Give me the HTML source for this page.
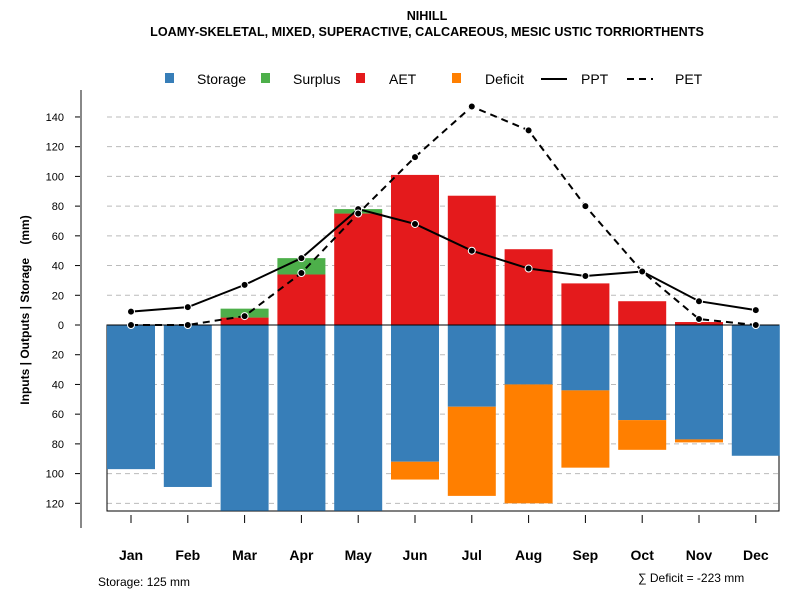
<!DOCTYPE html>
<html><head><meta charset="utf-8"><style>
body{margin:0;background:#fff}
svg{font-family:"Liberation Sans",sans-serif}
</style></head><body>
<svg id="c" width="800" height="600" xmlns="http://www.w3.org/2000/svg">
<text x="427" y="20" text-anchor="middle" font-size="12.6" font-weight="bold">NIHILL</text>
<text x="427" y="36" text-anchor="middle" font-size="12.6" font-weight="bold">LOAMY-SKELETAL, MIXED, SUPERACTIVE, CALCAREOUS, MESIC USTIC TORRIORTHENTS</text>
<g id="grid"></g><g id="bars"></g><g id="lines"></g><g id="axes"></g>
<g font-size="14">
<rect x="165" y="73" width="9" height="10" fill="#377eb8"/><text x="197" y="84">Storage</text>
<rect x="261" y="73" width="9" height="10" fill="#4daf4a"/><text x="293" y="84">Surplus</text>
<rect x="356" y="73" width="9" height="10" fill="#e41a1c"/><text x="389" y="84">AET</text>
<rect x="452" y="73" width="9" height="10" fill="#ff7f00"/><text x="485" y="84">Deficit</text>
<line x1="541" y1="79" x2="567" y2="79" stroke="#000" stroke-width="2"/><text x="581" y="84">PPT</text>
<line x1="627" y1="79" x2="653" y2="79" stroke="#000" stroke-width="2" stroke-dasharray="7,5"/><text x="675" y="84">PET</text>
</g>
<text x="98" y="586" font-size="12">Storage: 125 mm</text>
<text x="638" y="582" font-size="12">∑ Deficit = -223 mm</text>
<text transform="translate(29,310) rotate(-90)" text-anchor="middle" font-size="12" font-weight="bold" xml:space="preserve" style="white-space:pre">Inputs | Outputs | Storage    (mm)</text>
</svg>
<script>
const months=["Jan","Feb","Mar","Apr","May","Jun","Jul","Aug","Sep","Oct","Nov","Dec"];
const storage=[97,109,125,125,125,92,55,40,44,64,77,88];
const deficit=[0,0,0,0,0,12,60,80,52,20,2,0];
const aet=[0,0,5,34,75,101,87,51,28,16,2,0];
const surplus=[0,0,6,11,3,0,0,0,0,0,0,0];
const ppt=[9,12,27,45,78,68,50,38,33,36,16,10];
const pet=[0,0,6,35,75,113,147,131,80,36,4,0];
const ticks=[140,120,100,80,60,40,20,0,-20,-40,-60,-80,-100,-120];
const NS="http://www.w3.org/2000/svg";
const y=v=>325-v*1.486;
const x=i=>131+i*56.8;
const bw=48;
function el(g,t,a){const e=document.createElementNS(NS,t);for(const k in a)e.setAttribute(k,a[k]);document.getElementById(g).appendChild(e);return e;}
ticks.forEach(t=>{
 if(t!==0){const l=el("grid","line",{x1:107,x2:779,y1:y(t),y2:y(t),stroke:"#bbb","stroke-dasharray":"5,4"});
 
 }
 const tk=el("axes","line",{x1:75,x2:81,y1:y(t),y2:y(t),stroke:"#000"});
 
 
 const tx=el("axes","text",{x:64,y:y(t)+4,"text-anchor":"end","font-size":"11"});tx.textContent=Math.abs(t);
 
 
});
const box=el("grid","rect",{x:107,y:325,width:672,height:186,fill:"none",stroke:"#000"});


const ax=el("axes","line",{x1:81,x2:81,y1:90,y2:528,stroke:"#888","stroke-width":2});


months.forEach((m,i)=>{
 const L=x(i)-bw/2;
 const s=el("bars","rect",{x:L,y:325,width:bw,height:storage[i]*1.486,fill:"#377eb8"});
 
 
 if(deficit[i]>0){const d=el("bars","rect",{x:L,y:y(-storage[i]),width:bw,height:deficit[i]*1.486,fill:"#ff7f00"});
 
 }
 if(aet[i]>0){const a=el("bars","rect",{x:L,y:y(aet[i]),width:bw,height:aet[i]*1.486,fill:"#e41a1c"});
 
 }
 if(surplus[i]>0){const p=el("bars","rect",{x:L,y:y(aet[i]+surplus[i]),width:bw,height:surplus[i]*1.486,fill:"#4daf4a"});
 
 }
 const t=el("axes","line",{x1:x(i),x2:x(i),y1:515,y2:523,stroke:"#000"});
 
 
 const lb=el("axes","text",{x:x(i),y:560,"text-anchor":"middle","font-size":"14","font-weight":"bold"});lb.textContent=m;
 
 
});
const zl=el("bars","line",{x1:107,x2:779,y1:325,y2:325,stroke:"#000"});


[[ppt,"","ppt"],[pet,"7,5","pet"]].forEach(([d,da,n])=>{
 const pl=el("lines","polyline",{points:d.map((v,i)=>x(i)+","+y(v)).join(" "),fill:"none",stroke:"#000","stroke-width":2,"stroke-dasharray":da});
 
 
 d.forEach((v,i)=>{const c=el("lines","circle",{cx:x(i),cy:y(v),r:3.5,fill:"#000",stroke:"#fff","stroke-width":1});
 
 });
});
</script>
</body></html>
